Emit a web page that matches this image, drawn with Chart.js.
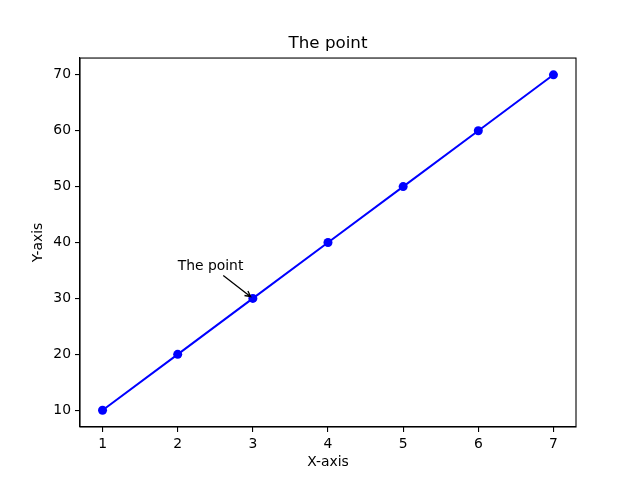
<!DOCTYPE html>
<html>
<head>
<meta charset="utf-8">
<script src="https://cdn.jsdelivr.net/npm/chart.js@4.4.0/dist/chart.umd.min.js"></script>
<style>
  html, body { margin: 0; padding: 0; background: #fff; }
  #wrap { width: 640px; height: 480px; }
</style>
</head>
<body>
<div id="wrap"><canvas id="myChart" width="640" height="480"></canvas></div>
<script>
// data
let xValues = [1, 2, 3, 4, 5, 6, 7];
let yValues = [10, 20, 30, 40, 50, 60, 70];
let xTicks = [1, 2, 3, 4, 5, 6, 7];
let yTicks = [10, 20, 30, 40, 50, 60, 70];

// annotation: text placed at (2, 35), arrow to (3, 30)
let noteText = 'The point';
let noteTextAt = [2, 35];
let notePointAt = [3, 30];

const FONT = 'DejaVu Sans';

// center the title over the plot area, like matplotlib does
const titlePlugin = {
    id: 'titleOverArea',
    afterLayout(chart) {
        let tb = chart.titleBlock;
        if (tb) {
            tb.left = chart.chartArea.left;
            tb.right = chart.chartArea.right;
            tb.width = tb.right - tb.left;
        }
    }
};

// frame around the plot area (matplotlib draws all four spines)
const framePlugin = {
    id: 'frame',
    afterDraw(chart) {
        let a = chart.chartArea;
        let ctx = chart.ctx;
        ctx.save();
        ctx.strokeStyle = '#000';
        ctx.lineWidth = 1.1;
        ctx.strokeRect(a.left, a.top, a.right - a.left, a.bottom - a.top);
        ctx.restore();
    }
};

// text + arrow annotation, positioned through the scales
const notePlugin = {
    id: 'note',
    afterDatasetsDraw(chart) {
        let ctx = chart.ctx;
        let xs = chart.scales.x, ys = chart.scales.y;
        let tx = xs.getPixelForValue(noteTextAt[0]);
        let ty = ys.getPixelForValue(noteTextAt[1]);
        let px = xs.getPixelForValue(notePointAt[0]);
        let py = ys.getPixelForValue(notePointAt[1]);

        ctx.save();
        ctx.font = '13.9px "' + FONT + '"';
        ctx.fillStyle = '#000';
        ctx.textAlign = 'left';
        ctx.textBaseline = 'alphabetic';
        ctx.fillText(noteText, tx, ty);

        let m = ctx.measureText(noteText);
        let w = m.width;
        let asc = 13.9 * 0.93, desc = 13.9 * 0.24;
        let top = ty - asc, bottom = ty + desc;
        let cx = tx + w / 2, cy = (top + bottom) / 2;

        // clip line from text centre to the point by the text box
        let dx = px - cx, dy = py - cy;
        let t = 1;
        if (dy !== 0) t = Math.min(t, Math.abs((dy > 0 ? bottom - cy : top - cy) / dy));
        if (dx !== 0) t = Math.min(t, Math.abs((dx > 0 ? tx + w - cx : tx - cx) / dx));
        let len = Math.hypot(dx, dy);
        let ux = dx / len, uy = dy / len;
        let shrink = 2.8;
        let sx = cx + dx * t + ux * shrink, sy = cy + dy * t + uy * shrink;
        let ex = px - ux * shrink, ey = py - uy * shrink;

        ctx.strokeStyle = '#000';
        ctx.lineWidth = 1.3;
        ctx.beginPath();
        ctx.moveTo(sx, sy);
        ctx.lineTo(ex, ey);
        // open "->" head
        let hl = 5.6, hw = 2.8;
        let bx = ex - ux * hl, by = ey - uy * hl;
        ctx.moveTo(bx - uy * hw, by + ux * hw);
        ctx.lineTo(ex, ey);
        ctx.lineTo(bx + uy * hw, by - ux * hw);
        ctx.stroke();
        ctx.restore();
    }
};

let points = xValues.map(function(x, i) { return { x: x, y: yValues[i] }; });

let ctx = document.getElementById('myChart').getContext('2d');
new Chart(ctx, {
    type: 'line',
    data: {
        datasets: [{
            data: points,
            borderColor: '#0000ff',
            backgroundColor: '#0000ff',
            borderWidth: 2,
            pointRadius: 4.5,
            pointHoverRadius: 4.5,
            pointBorderWidth: 0,
            tension: 0,
            fill: false
        }]
    },
    options: {
        responsive: false,
        animation: false,
        events: [],
        layout: { padding: { left: 0, right: 64, top: 0, bottom: 0 } },
        plugins: {
            legend: { display: false },
            tooltip: { enabled: false },
            title: {
                display: true,
                text: 'The point',
                color: '#000',
                font: { family: FONT, size: 16.7, weight: 'normal' },
                padding: { top: 34, bottom: 4 }
            }
        },
        scales: {
            x: {
                type: 'linear',
                min: 0.7,
                max: 7.3,
                afterBuildTicks: function(scale) {
                    scale.ticks = xTicks.map(function(v) { return { value: v }; });
                },
                afterFit: function(scale) { scale.height = 53; },
                grid: {
                    drawOnChartArea: false,
                    drawTicks: true,
                    tickLength: 5,
                    color: '#000',
                    lineWidth: 1.1
                },
                border: { display: true, color: '#000', width: 1.1 },
                ticks: {
                    color: '#000',
                    padding: 4,
                    maxRotation: 0,
                    font: { family: FONT, size: 13.9 }
                },
                title: {
                    display: true,
                    text: 'X-axis',
                    color: '#000',
                    font: { family: FONT, size: 13.9 },
                    padding: { top: 0, bottom: 9.5 }
                }
            },
            y: {
                type: 'linear',
                min: 7,
                max: 73,
                afterBuildTicks: function(scale) {
                    scale.ticks = yTicks.map(function(v) { return { value: v }; });
                },
                afterFit: function(scale) { scale.width = 80; },
                grid: {
                    drawOnChartArea: false,
                    drawTicks: true,
                    tickLength: 5,
                    color: '#000',
                    lineWidth: 1.1
                },
                border: { display: true, color: '#000', width: 1.1 },
                ticks: {
                    color: '#000',
                    padding: 4,
                    font: { family: FONT, size: 13.9 }
                },
                title: {
                    display: true,
                    text: 'Y-axis',
                    color: '#000',
                    font: { family: FONT, size: 13.9 },
                    padding: { top: 30, bottom: 0 }
                }
            }
        }
    },
    plugins: [titlePlugin, framePlugin, notePlugin]
});
</script>
</body>
</html>
